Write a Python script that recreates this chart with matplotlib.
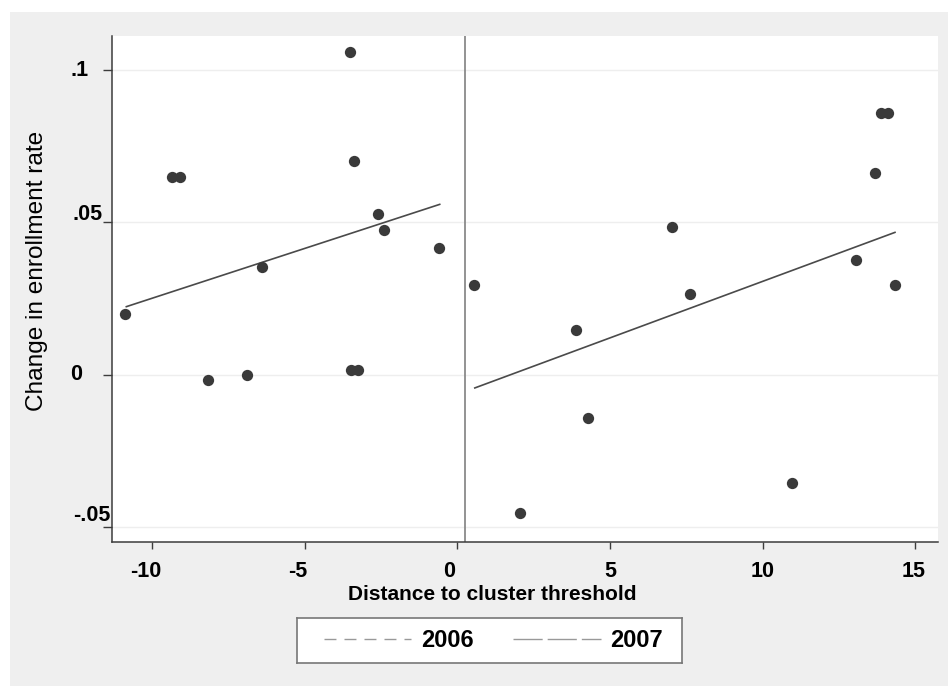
import matplotlib.pyplot as plt
from matplotlib.lines import Line2D
from matplotlib.patches import Rectangle
from matplotlib.transforms import offset_copy

# points left and right of the cluster threshold
dist_left = [-10.88, -9.34, -9.08, -8.17, -6.90, -6.40, -3.53, -3.38,
             -3.50, -3.27, -2.61, -2.40, -0.61]
chg_left = [0.0199, 0.0648, 0.0648, -0.0017, 0.0000, 0.0353, 0.1060, 0.0700,
            0.0014, 0.0015, 0.0527, 0.0474, 0.0417]
dist_right = [0.56, 2.05, 3.90, 4.28, 7.03, 7.63, 10.97, 13.07, 13.67,
              13.89, 14.11, 14.33]
chg_right = [0.0293, -0.0454, 0.0145, -0.0143, 0.0485, 0.0264, -0.0356,
             0.0376, 0.0661, 0.0858, 0.0858, 0.0293]

# linear fits on each side
fit_left_x = [-10.85, -0.58]
fit_left_y = [0.0223, 0.0559]
fit_right_x = [0.57, 14.34]
fit_right_y = [-0.0044, 0.0467]

threshold = 0.25
xticks = [-10, -5, 0, 5, 10, 15]
yticks = [-0.05, 0, 0.05, 0.1]
ytick_labels = ['-.05', '0', '.05', '.1']
years = ['2006', '2007']
year_dashes = [(0, (8.6, 5.8)), (0, (21, 3.6))]

# stata-ish label placement (pixels)
xtick_dx = [-7, -7, -8, 0, 0, -1]
ytick_px = [110, 76, 102.7, 80]
ytick_ha = ['right', 'center', 'right', 'center']
ytick_va = ['baseline', 'center', 'baseline', 'center']
ytick_dy = [6, 0, 2, 0]

plt.rcParams['font.family'] = ['Liberation Sans', 'DejaVu Sans']
plt.rcParams['axes.unicode_minus'] = False

W, H = 948, 686
fig = plt.figure(figsize=(W / 100, H / 100), dpi=100, facecolor='white')
fig.patches.append(Rectangle((10 / W, 0), 1, 1 - 12 / H, transform=fig.transFigure,
                             facecolor='#efefef', edgecolor='none', zorder=-5))

ax_l, ax_r, ax_t, ax_b = 112.3, 938, 36, 541.7
ax = fig.add_axes([ax_l / W, 1 - ax_b / H, (ax_r - ax_l) / W, (ax_b - ax_t) / H])
ax.set_facecolor('white')

ax.scatter(dist_left, chg_left, s=66, color='#3a3a3a', zorder=3, linewidths=0)
ax.scatter(dist_right, chg_right, s=66, color='#3a3a3a', zorder=3, linewidths=0)
ax.plot(fit_left_x, fit_left_y, color='#4a4a4a', lw=1.2, zorder=2)
ax.plot(fit_right_x, fit_right_y, color='#4a4a4a', lw=1.2, zorder=2)
ax.axvline(threshold, color='#8a8a8a', lw=1.3, zorder=1)

ax.set_xlim(-11.31, 15.75)
ax.set_ylim(-0.0549, 0.1112)
ax.set_xticks(xticks)
ax.set_yticks(yticks)
ax.grid(axis='y', color='#eeeeee', lw=1)
ax.set_axisbelow(True)

for side in ['top', 'right']:
    ax.spines[side].set_visible(False)
for side in ['left', 'bottom']:
    ax.spines[side].set_color('#3c3c3c')
    ax.spines[side].set_linewidth(1.1)
ax.tick_params(axis='x', length=5, width=1, color='#3c3c3c', labelbottom=False)
ax.tick_params(axis='y', length=6.5, width=1, color='#3c3c3c', labelleft=False)

# tick labels drawn by hand so they sit like the stata ones
xtrans = ax.get_xaxis_transform()
for val, dx in zip(xticks, xtick_dx):
    ax.text(val, (ax_b - 577) / (ax_b - ax_t), str(val),
            transform=offset_copy(xtrans, fig=fig, x=dx, y=0, units='dots'),
            ha='center', va='baseline', fontsize=15.5, fontweight='bold', clip_on=False)
ytrans = ax.get_yaxis_transform()
for val, lab, px, ha, va, dy in zip(yticks, ytick_labels, ytick_px, ytick_ha, ytick_va, ytick_dy):
    ax.text((px - ax_l) / (ax_r - ax_l), val, lab,
            transform=offset_copy(ytrans, fig=fig, x=0, y=dy, units='dots'),
            ha=ha, va=va, fontsize=15.5, fontweight='bold', clip_on=False)

ax.set_xlabel('Distance to cluster threshold', fontsize=15, fontweight='bold')
ax.xaxis.set_label_coords((492 - ax_l) / (ax_r - ax_l), (ax_b - 585) / (ax_b - ax_t))
ax.set_ylabel('Change in enrollment rate', fontsize=17.6)
ax.yaxis.set_label_coords((48 - ax_l) / (ax_r - ax_l), (ax_b - 271) / (ax_b - ax_t))

# legend box below the plot
lax = fig.add_axes([297 / W, 1 - 663 / H, 385 / W, 45 / H])
lax.set_facecolor('white')
lax.set_xticks([])
lax.set_yticks([])
for sp in lax.spines.values():
    sp.set_color('#777777')
    sp.set_linewidth(1.2)
handles = [Line2D([], [], color='#999999', lw=1, linestyle=d) for d in year_dashes]
leg = lax.legend(handles, years, loc='center', ncol=2, frameon=False,
                 fontsize=17, handlelength=3.7, handletextpad=0.4, columnspacing=1.7,
                 bbox_to_anchor=(0.51, 0.5))
for t in leg.get_texts():
    t.set_fontweight('bold')

fig.savefig('out.png', dpi=100)
